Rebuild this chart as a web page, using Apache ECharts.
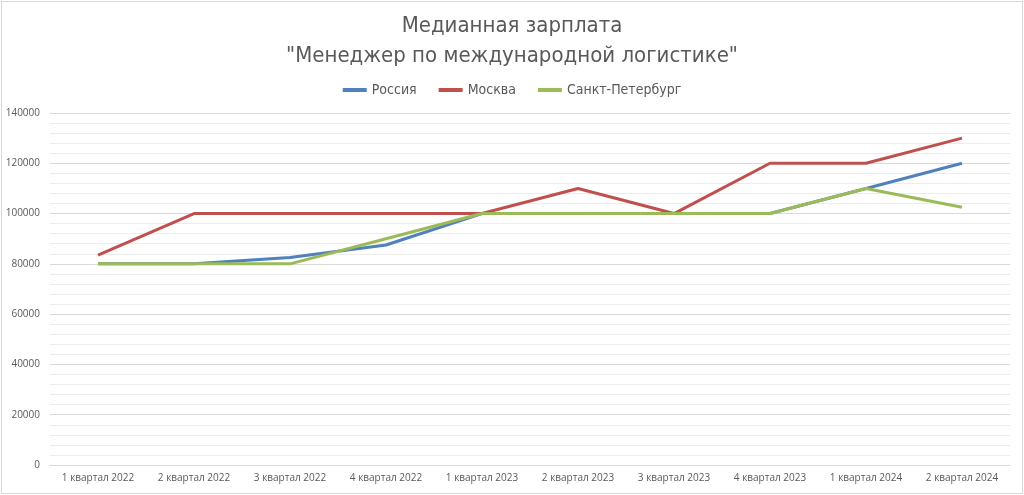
<!DOCTYPE html>
<html><head><meta charset="utf-8">
<script src="https://cdn.jsdelivr.net/npm/echarts@6/dist/echarts.min.js"></script>
<style>html,body{margin:0;padding:0;background:#fff}#c{position:absolute;left:1px;top:1px;width:1020px;height:491px;border:1px solid #d9d9d9}</style>
</head><body><div id="c"></div>
<script>
const categories = ['1 квартал 2022','2 квартал 2022','3 квартал 2022','4 квартал 2022','1 квартал 2023','2 квартал 2023','3 квартал 2023','4 квартал 2023','1 квартал 2024','2 квартал 2024'];
const russia = [80000,80000,82500,87500,100000,100000,100000,100000,110000,120000];
const moscow = [83500,100000,100000,100000,100000,110000,100000,120000,120000,130000];
const spb = [80000,80000,80000,90000,100000,100000,100000,100000,110000,102500];
const chart = echarts.init(document.getElementById('c'));
const tf = '"Liberation Sans Narrow","DejaVu Sans Condensed",sans-serif';
chart.setOption({
  animation:false,
  title:{text:'Медианная зарплата\n"Менеджер по международной логистике"',left:'center',top:4,
    textStyle:{fontFamily:tf,fontWeight:'normal',fontSize:22,color:'#595959',lineHeight:30}},
  legend:{top:76,left:'center',itemWidth:24,itemHeight:4,itemGap:22,icon:'rect',
    textStyle:{fontFamily:tf,fontSize:14,color:'#595959'},data:['Россия','Москва','Санкт-Петербург']},
  grid:{left:48,right:12,top:111,bottom:28},
  xAxis:{type:'category',data:categories,boundaryGap:true,
    axisLine:{lineStyle:{color:'#d9d9d9'}},axisTick:{show:false},
    axisLabel:{color:'#595959',fontSize:10,fontFamily:'"Open Sans",sans-serif',margin:8}},
  yAxis:{type:'value',min:0,max:140000,interval:20000,
    axisLine:{show:false},axisTick:{show:false},
    axisLabel:{color:'#595959',fontSize:10,fontFamily:'"Open Sans",sans-serif',margin:10,formatter:v=>String(v)},
    splitLine:{lineStyle:{color:'#d9d9d9'}},
    minorTick:{show:false,splitNumber:5},
    minorSplitLine:{show:true,lineStyle:{color:'#ececec'}}},
  series:[
    {name:'Россия',type:'line',data:russia,showSymbol:false,symbol:'none',lineStyle:{width:3,color:'#4f81bd'},itemStyle:{color:'#4f81bd'}},
    {name:'Москва',type:'line',data:moscow,showSymbol:false,symbol:'none',lineStyle:{width:3,color:'#c0504d'},itemStyle:{color:'#c0504d'}},
    {name:'Санкт-Петербург',type:'line',data:spb,showSymbol:false,symbol:'none',lineStyle:{width:3,color:'#9bbb59'},itemStyle:{color:'#9bbb59'}}
  ]
});
</script></body></html>
